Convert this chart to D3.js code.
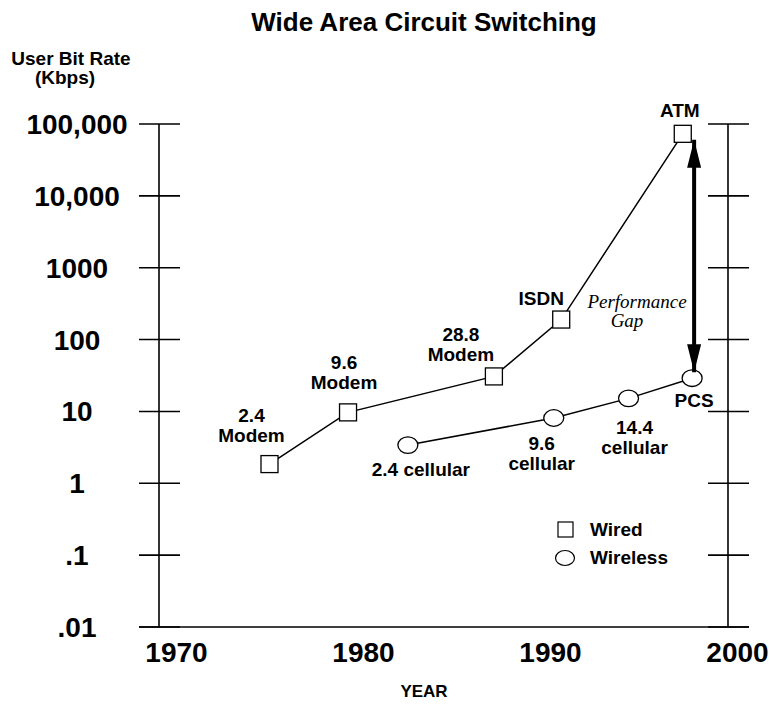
<!DOCTYPE html>
<html>
<head>
<meta charset="utf-8">
<script src="https://cdn.jsdelivr.net/npm/d3@7.9.0/dist/d3.min.js"></script>
<style>
  body { margin: 0; background: #fff; }
  svg { display: block; font-family: "Liberation Sans", Arial, sans-serif; }
  .bold { font-weight: bold; }
</style>
</head>
<body>
<svg id="chart" width="769" height="704"></svg>
<script>
// data
const xTicks = [1970, 1980, 1990, 2000];
const yTicks = [0.01, 0.1, 1, 10, 100, 1000, 10000, 100000];
const yTickLabels = ['.01', '.1', '1', '10', '100', '1000', '10,000', '100,000'];

const wiredYears = [1975.0, 1979.2, 1987.0, 1990.6, 1997.1];
const wiredRates = [1.85, 9.7, 30.7, 190, 73000];
const wiredNames = [['2.4', 'Modem'], ['9.6', 'Modem'], ['28.8', 'Modem'], ['ISDN'], ['ATM']];

const wirelessYears = [1982.4, 1990.2, 1994.2, 1997.6];
const wirelessRates = [3.4, 8.1, 15.2, 29];
const wirelessNames = [['2.4 cellular'], ['9.6', 'cellular'], ['14.4', 'cellular'], ['PCS']];

// label offsets from each marker (layout only)
const wiredLabelPos = [[-18, -42], [-4, -43], [-33, -35], [-20, -15], [-3, -17]];
const wirelessLabelPos = [[13, 31], [-12, 32], [6, 36], [2, 29]];

const svg = d3.select('#chart');

const x = d3.scaleLinear().domain([1970, 2000]).range([176, 737]);
const y = d3.scaleLog().domain([0.01, 100000]).range([627, 124]);

const frameLeft = 159, frameRight = 728;
const yBottom = y(0.01), yTop = y(100000);

// title + axis titles
svg.append('text').attr('class', 'bold')
    .attr('x', 424).attr('y', 31)
    .attr('text-anchor', 'middle').attr('font-size', 26)
    .text('Wide Area Circuit Switching');

svg.append('text').attr('class', 'bold')
    .attr('x', 71).attr('y', 65)
    .attr('text-anchor', 'middle').attr('font-size', 19)
    .text('User Bit Rate');
svg.append('text').attr('class', 'bold')
    .attr('x', 65).attr('y', 84)
    .attr('text-anchor', 'middle').attr('font-size', 19)
    .text('(Kbps)');

svg.append('text').attr('class', 'bold')
    .attr('x', 424).attr('y', 697)
    .attr('text-anchor', 'middle').attr('font-size', 17)
    .text('YEAR');

// frame: two vertical axes with crossing ticks
const axes = svg.append('g').attr('stroke', '#000').attr('stroke-width', 1.6);
[frameLeft, frameRight].forEach(fx => {
    axes.append('line')
        .attr('x1', fx).attr('x2', fx)
        .attr('y1', yTop).attr('y2', yBottom);
    axes.selectAll(null)
        .data(yTicks)
        .join('line')
        .attr('x1', fx - 20).attr('x2', fx + 21)
        .attr('y1', d => y(d)).attr('y2', d => y(d));
});
axes.append('line')
    .attr('x1', 139).attr('x2', 749)
    .attr('y1', yBottom).attr('y2', yBottom);

// y tick labels (centred, like the original)
svg.append('g').selectAll('text')
    .data(yTicks)
    .join('text')
    .attr('class', 'bold')
    .attr('x', 77)
    .attr('y', d => y(d) + 10)
    .attr('text-anchor', 'middle')
    .attr('font-size', 28)
    .text((d, i) => yTickLabels[i]);

// x axis labels
const xAxis = svg.append('g')
    .attr('transform', `translate(0,${yBottom})`)
    .call(d3.axisBottom(x).tickValues(xTicks).tickFormat(d3.format('d')).tickSize(0).tickPadding(15));
xAxis.select('.domain').remove();
xAxis.selectAll('text')
    .attr('font-size', 28)
    .attr('font-weight', 'bold')
    .attr('font-family', '"Liberation Sans", Arial, sans-serif')
    .attr('fill', '#000');

// series
const wired = wiredYears.map((yr, i) => ({ year: yr, rate: wiredRates[i], name: wiredNames[i], pos: wiredLabelPos[i] }));
const wireless = wirelessYears.map((yr, i) => ({ year: yr, rate: wirelessRates[i], name: wirelessNames[i], pos: wirelessLabelPos[i] }));

const line = d3.line().x(d => x(d.year)).y(d => y(d.rate));

svg.append('path').datum(wired)
    .attr('d', line).attr('fill', 'none')
    .attr('stroke', '#000').attr('stroke-width', 1.5);
svg.append('path').datum(wireless)
    .attr('d', line).attr('fill', 'none')
    .attr('stroke', '#000').attr('stroke-width', 1.5);

const sq = 17;
svg.append('g').selectAll('rect')
    .data(wired)
    .join('rect')
    .attr('x', d => x(d.year) - sq / 2)
    .attr('y', d => y(d.rate) - sq / 2)
    .attr('width', sq).attr('height', sq)
    .attr('fill', '#fff').attr('stroke', '#000').attr('stroke-width', 1.3);

svg.append('g').selectAll('ellipse')
    .data(wireless)
    .join('ellipse')
    .attr('cx', d => x(d.year))
    .attr('cy', d => y(d.rate))
    .attr('rx', 10).attr('ry', 8.3)
    .attr('fill', '#fff').attr('stroke', '#000').attr('stroke-width', 1.3);

// point labels
function addLabels(data) {
    const g = svg.append('g').selectAll('text')
        .data(data)
        .join('text')
        .attr('class', 'bold')
        .attr('text-anchor', 'middle')
        .attr('font-size', 19)
        .attr('x', d => x(d.year) + d.pos[0])
        .attr('y', d => y(d.rate) + d.pos[1]);
    g.each(function (d) {
        const t = d3.select(this);
        d.name.forEach((s, k) => {
            t.append('tspan')
                .attr('x', x(d.year) + d.pos[0])
                .attr('dy', k === 0 ? 0 : 20)
                .text(s);
        });
    });
}
addLabels(wired);
addLabels(wireless);

// performance gap arrow
const defs = svg.append('defs');
defs.append('marker')
    .attr('id', 'head')
    .attr('markerUnits', 'userSpaceOnUse')
    .attr('viewBox', '0 0 28 14')
    .attr('refX', 28).attr('refY', 7)
    .attr('markerWidth', 28).attr('markerHeight', 14)
    .attr('orient', 'auto-start-reverse')
    .append('path')
    .attr('d', 'M0,0 L28,7 L0,14 Z')
    .attr('fill', '#000');

const atm = wired[wired.length - 1];
const pcs = wireless[wireless.length - 1];
const ax = x(pcs.year) + 2;
svg.append('line')
    .attr('x1', ax).attr('x2', ax)
    .attr('y1', y(atm.rate) + 6)
    .attr('y2', y(pcs.rate) - 6)
    .attr('stroke', '#000').attr('stroke-width', 4)
    .attr('marker-start', 'url(#head)')
    .attr('marker-end', 'url(#head)');

svg.append('text')
    .attr('x', 637).attr('y', 308)
    .attr('text-anchor', 'middle')
    .attr('font-family', '"Liberation Serif", "Times New Roman", serif')
    .attr('font-style', 'italic').attr('font-size', 19)
    .text('Performance');
svg.append('text')
    .attr('x', 627).attr('y', 327)
    .attr('text-anchor', 'middle')
    .attr('font-family', '"Liberation Serif", "Times New Roman", serif')
    .attr('font-style', 'italic').attr('font-size', 19)
    .text('Gap');

// legend
const legend = svg.append('g');
legend.append('rect')
    .attr('x', 558).attr('y', 522).attr('width', 15).attr('height', 15)
    .attr('fill', '#fff').attr('stroke', '#000').attr('stroke-width', 1.2);
legend.append('ellipse')
    .attr('cx', 565).attr('cy', 558).attr('rx', 9.5).attr('ry', 7.5)
    .attr('fill', '#fff').attr('stroke', '#000').attr('stroke-width', 1.2);
legend.append('text').attr('class', 'bold')
    .attr('x', 590).attr('y', 536).attr('font-size', 19).text('Wired');
legend.append('text').attr('class', 'bold')
    .attr('x', 590).attr('y', 564).attr('font-size', 19).text('Wireless');
</script>
</body>
</html>
